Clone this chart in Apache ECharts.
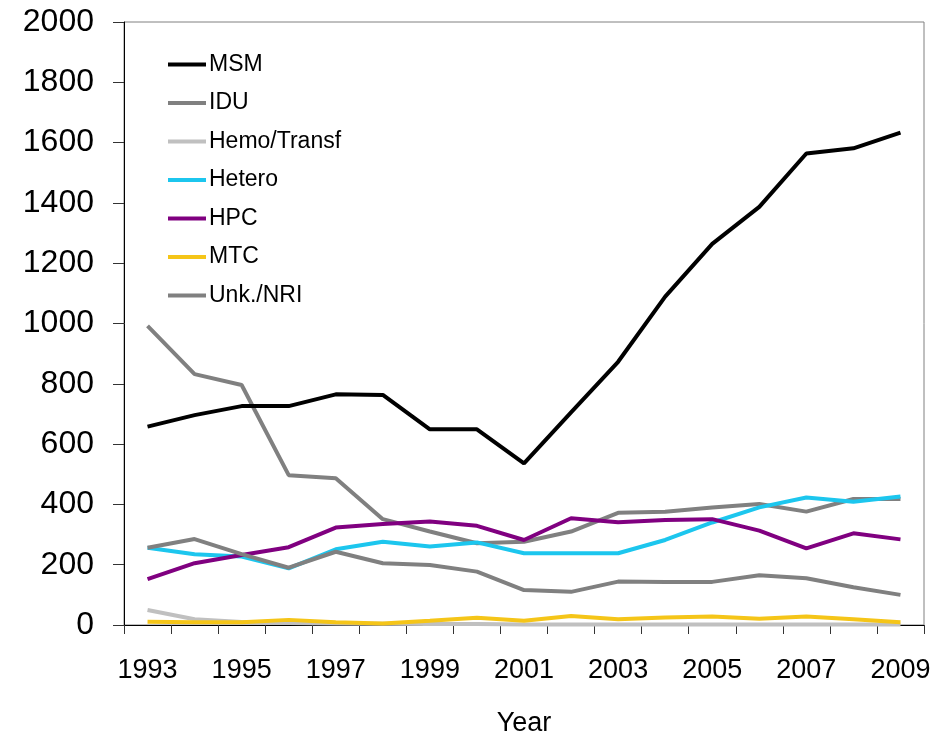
<!DOCTYPE html>
<html>
<head>
<meta charset="utf-8">
<title>Cases by exposure category</title>
<script src="https://cdn.jsdelivr.net/npm/echarts@6/dist/echarts.min.js"></script>
<style>
	html, body { margin: 0; padding: 0; background: #fff; }
	#chart { width: 935px; height: 740px; }
</style>
</head>
<body>
<div id="chart"></div>
<script>
'use strict';

// years on the x axis
var years = ['1993','1994','1995','1996','1997','1998','1999','2000','2001',
		'2002','2003','2004','2005','2006','2007','2008','2009'];

// y axis ticks
var yMin = 0, yMax = 2000, yStep = 200;

// series values
var msm    = [658, 696, 726, 726, 765, 763, 649, 649, 536, 705, 873, 1089, 1264, 1387, 1564, 1581, 1633];
var idu    = [992, 832, 796, 497, 487, 351, 310, 271, 276, 310, 372, 376, 390, 401, 376, 418, 418];
var hemo   = [50, 19, 10, 7, 5, 4, 3, 3, 2, 2, 2, 2, 2, 2, 2, 2, 2];
var hetero = [256, 235, 227, 188, 251, 276, 260, 274, 238, 238, 238, 282, 340, 390, 423, 409, 426];
var hpc    = [152, 205, 232, 258, 323, 335, 343, 329, 282, 354, 341, 348, 351, 313, 254, 304, 284];
var mtc    = [11, 9, 9, 17, 9, 5, 14, 24, 14, 30, 19, 25, 28, 21, 28, 19, 9];
var unk    = [256, 285, 235, 190, 243, 205, 199, 177, 116, 110, 144, 143, 143, 165, 155, 125, 100];

var names  = ['MSM', 'IDU', 'Hemo/Transf', 'Hetero', 'HPC', 'MTC', 'Unk./NRI'];
var colors = ['#000000', '#808080', '#c0c0c0', '#1cc6ee', '#800080', '#f5c518', '#808080'];

(function(){
	var font = 'Liberation Sans, Arial, sans-serif',
			values = [msm, idu, hemo, hetero, hpc, mtc, unk],
			series = [];

	// black on top, yellow above the light grey near zero
	for(var i = 0; i < names.length; i++){
		series.push({
			name: names[i],
			type: 'line',
			data: values[i],
			symbol: 'none',
			z: i === 0 ? 10 : 2 + (i === 5 ? 3 : 0),
			lineStyle: { color: colors[i], width: 4 },
			itemStyle: { color: colors[i] },
		});
	}

	var option = {
		animation: false,
		textStyle: { fontFamily: font },
		grid: {
			left: 124, right: 11, top: 22, bottom: 115,
			outerBoundsMode: 'none',
			show: true, borderColor: '#808080', borderWidth: 1,
		},
		legend: {
			orient: 'vertical',
			left: 163, top: 48,
			itemWidth: 38, itemHeight: 4,
			itemGap: 15.5,
			icon: 'rect',
			textStyle: { fontSize: 23, color: '#000', fontFamily: font, padding: [0, 0, 0, -2] },
			data: names,
		},
		xAxis: {
			type: 'category',
			data: years,
			boundaryGap: true,
			name: 'Year',
			nameLocation: 'middle',
			nameGap: 85,
			nameTextStyle: { fontSize: 27, color: '#000', fontFamily: font },
			axisLine: { lineStyle: { color: '#000', width: 1 } },
			axisTick: { show: true, interval: 0, length: 9, lineStyle: { color: '#333' } },
			axisLabel: { interval: 1, fontSize: 27, color: '#000', margin: 32, fontFamily: font },
			splitLine: { show: false },
		},
		yAxis: {
			type: 'value',
			min: yMin, max: yMax, interval: yStep,
			axisLine: { show: true, lineStyle: { color: '#000', width: 1 } },
			axisTick: { show: true, length: 11, lineStyle: { color: '#333' } },
			axisLabel: {
				fontSize: 32, color: '#000', margin: 30, fontFamily: font,
				formatter: function(v){ return String(v); },
			},
			splitLine: { show: false },
		},
		series: series,
	};

	echarts.init(document.getElementById('chart')).setOption(option);
})();
</script>
</body>
</html>
